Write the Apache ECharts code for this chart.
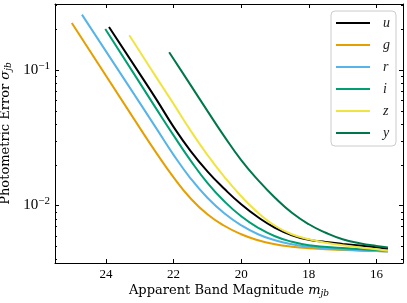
<!DOCTYPE html>
<html><head><meta charset="utf-8">
<script src="https://cdn.jsdelivr.net/npm/echarts@6/dist/echarts.min.js"></script>
<style>html,body{margin:0;padding:0;background:#fff}#c{width:407px;height:303px}</style>
</head><body><div id="c"></div>
<script>
// ---- data: [apparent band magnitude, photometric error] ----
const bands = ['u', 'g', 'r', 'i', 'z', 'y'];
const colors = ['#000000', '#E69F00', '#56B4E9', '#009E73', '#F0E442', '#00774A'];
const uData = [[23.91,0.2074],[23.0,0.09344],[22.5,0.06010],[22.0,0.03802],[21.5,0.02530],[21.0,0.01786],[20.5,0.01328],[20.0,0.01020],[19.5,0.008185],[19.0,0.006849],[18.5,0.006031],[18.0,0.005587],[17.5,0.005374],[17.0,0.005203],[16.0,0.004911],[15.66,0.004796]];
const gData = [[25.01,0.2220],[23.0,0.03738],[22.5,0.02425],[22.0,0.01614],[21.5,0.01130],[21.0,0.008614],[20.5,0.007085],[20.0,0.006135],[19.5,0.005541],[19.0,0.005177],[18.5,0.004962],[18.0,0.004837],[17.0,0.004691],[16.0,0.004613],[15.66,0.004581]];
const rData = [[24.71,0.2556],[23.0,0.05712],[22.5,0.03674],[22.0,0.02364],[21.5,0.01587],[21.0,0.01140],[20.5,0.008760],[20.0,0.007146],[19.5,0.006135],[19.0,0.005541],[18.5,0.005177],[18.0,0.004962],[17.0,0.004732],[16.0,0.004620],[15.66,0.004581]];
const iData = [[24.02,0.2004],[23.0,0.08020],[22.5,0.05116],[22.0,0.03292],[21.5,0.02153],[21.0,0.01470],[20.5,0.01074],[20.0,0.008325],[19.5,0.006849],[19.0,0.005929],[18.5,0.005401],[18.0,0.005090],[17.0,0.004854],[16.0,0.004691],[15.66,0.004636]];
const zData = [[23.31,0.1802],[23.0,0.1369],[22.5,0.08730],[22.0,0.05616],[21.5,0.03582],[21.0,0.02364],[20.5,0.01628],[20.0,0.01169],[19.5,0.008835],[19.0,0.007085],[18.5,0.006135],[18.0,0.005635],[17.5,0.005310],[17.0,0.005082],[16.0,0.004748],[15.66,0.004636]];
const yData = [[22.13,0.1350],[22.0,0.1205],[21.5,0.07753],[21.0,0.04988],[20.5,0.03236],[20.0,0.02161],[19.5,0.01539],[19.0,0.01140],[18.5,0.008835],[18.0,0.007269],[17.5,0.006293],[17.0,0.005635],[16.5,0.005265],[16.0,0.005021],[15.66,0.004904]];
const bandData = [uData, gData, rData, iData, zData, yData];
const xRange = [15.214, 25.507];
const yRange = [0.003763, 0.3064];
const yMinorTicks = [0.004,0.005,0.006,0.007,0.008,0.009,0.02,0.03,0.04,0.05,0.06,0.07,0.08,0.09,0.2,0.3];

const tickFont = 'Liberation Serif';
const titleFont = 'DejaVu Serif';
const chart = echarts.init(document.getElementById('c'), null, {renderer: 'canvas'});

function xFmt(v) {
  return (Math.abs(v - Math.round(v)) < 1e-6 && Math.round(v) % 2 === 0) ? String(Math.round(v)) : '';
}
function yFmt(v) {
  const e = Math.log10(v);
  if (Math.abs(e - Math.round(e)) > 1e-6) return '';
  return '{b|10}{s|\u2212' + (-Math.round(e)) + '}';
}
const axisLine = {onZero: false, lineStyle: {color: '#000', width: 1}};
const axisTick = {inside: true, length: 4, lineStyle: {color: '#000', width: 1}};

const series = bands.map((b, k) => ({
  type: 'line', name: b, data: bandData[k], showSymbol: false, symbol: 'none',
  smooth: 0.5, lineStyle: {color: colors[k], width: 2}, itemStyle: {color: colors[k]},
  z: 2 + k, silent: true
}));
series.push({
  type: 'custom', name: 'minor', coordinateSystem: 'cartesian2d', silent: true, z: 20,
  data: yMinorTicks.map(v => [20, v]),
  renderItem: function (params, api) {
    const cs = params.coordSys;
    const y = Math.round(api.coord([api.value(0), api.value(1)])[1]) + 0.5;
    return {type: 'group', children: [
      {type: 'line', shape: {x1: cs.x, y1: y, x2: cs.x + 2, y2: y}, style: {stroke: '#000', lineWidth: 1}},
      {type: 'line', shape: {x1: cs.x + cs.width - 2, y1: y, x2: cs.x + cs.width, y2: y}, style: {stroke: '#000', lineWidth: 1}}
    ]};
  }
});

const subRich = {
  i: {fontFamily: titleFont, fontStyle: 'italic', fontSize: 13},
  s: {fontFamily: titleFont, fontStyle: 'italic', fontSize: 9, padding: [6, 0, 0, 0]}
};

chart.setOption({
  animation: false,
  backgroundColor: '#fff',
  grid: {left: 55, right: 4, top: 4, bottom: 40, containLabel: false, outerBoundsMode: 'none'},
  legend: {
    data: bands, orient: 'vertical', right: 11, top: 11,
    icon: 'rect', itemWidth: 34, itemHeight: 2, itemGap: 6,
    padding: [4, 6, 5, 5],
    borderColor: '#cccccc', borderWidth: 1, borderRadius: 4,
    backgroundColor: 'rgba(255,255,255,0.8)',
    textStyle: {fontFamily: tickFont, fontStyle: 'italic', fontSize: 14, lineHeight: 16, color: '#222', padding: [0, 0, 0, 8]}
  },
  xAxis: [{
    type: 'value', inverse: true, min: xRange[0], max: xRange[1], splitNumber: 5, position: 'bottom',
    axisLine: axisLine, axisTick: axisTick, splitLine: {show: false},
    axisLabel: {margin: 5, fontFamily: tickFont, fontSize: 13, color: '#000', formatter: xFmt, showMinLabel: false, showMaxLabel: false},
    name: 'Apparent Band Magnitude {i|m}{s|jb}', nameLocation: 'middle', nameGap: 20, nameMoveOverlap: false,
    nameTextStyle: {fontFamily: titleFont, fontSize: 13, color: '#000', rich: subRich}
  }, {
    type: 'value', inverse: true, min: xRange[0], max: xRange[1], splitNumber: 5, position: 'top',
    axisLine: axisLine, axisTick: axisTick, splitLine: {show: false}, axisLabel: {show: false}
  }],
  yAxis: [{
    type: 'log', logBase: 10, min: yRange[0], max: yRange[1], position: 'left',
    axisLine: axisLine, axisTick: axisTick, splitLine: {show: false}, minorTick: {show: false},
    axisLabel: {margin: 5, color: '#000', formatter: yFmt, showMinLabel: false, showMaxLabel: false,
      rich: {b: {fontFamily: tickFont, fontSize: 15}, s: {fontFamily: tickFont, fontSize: 11, padding: [0, 0, 8, 0]}}},
    name: 'Photometric Error {i|\u03c3}{s|jb}', nameLocation: 'middle', nameGap: 42, nameRotate: 90, nameMoveOverlap: false,
    nameTextStyle: {fontFamily: titleFont, fontSize: 13, color: '#000', rich: subRich}
  }, {
    type: 'log', logBase: 10, min: yRange[0], max: yRange[1], position: 'right',
    axisLine: axisLine, axisTick: axisTick, splitLine: {show: false}, axisLabel: {show: false}
  }],
  series: series
});
</script>
</body></html>
